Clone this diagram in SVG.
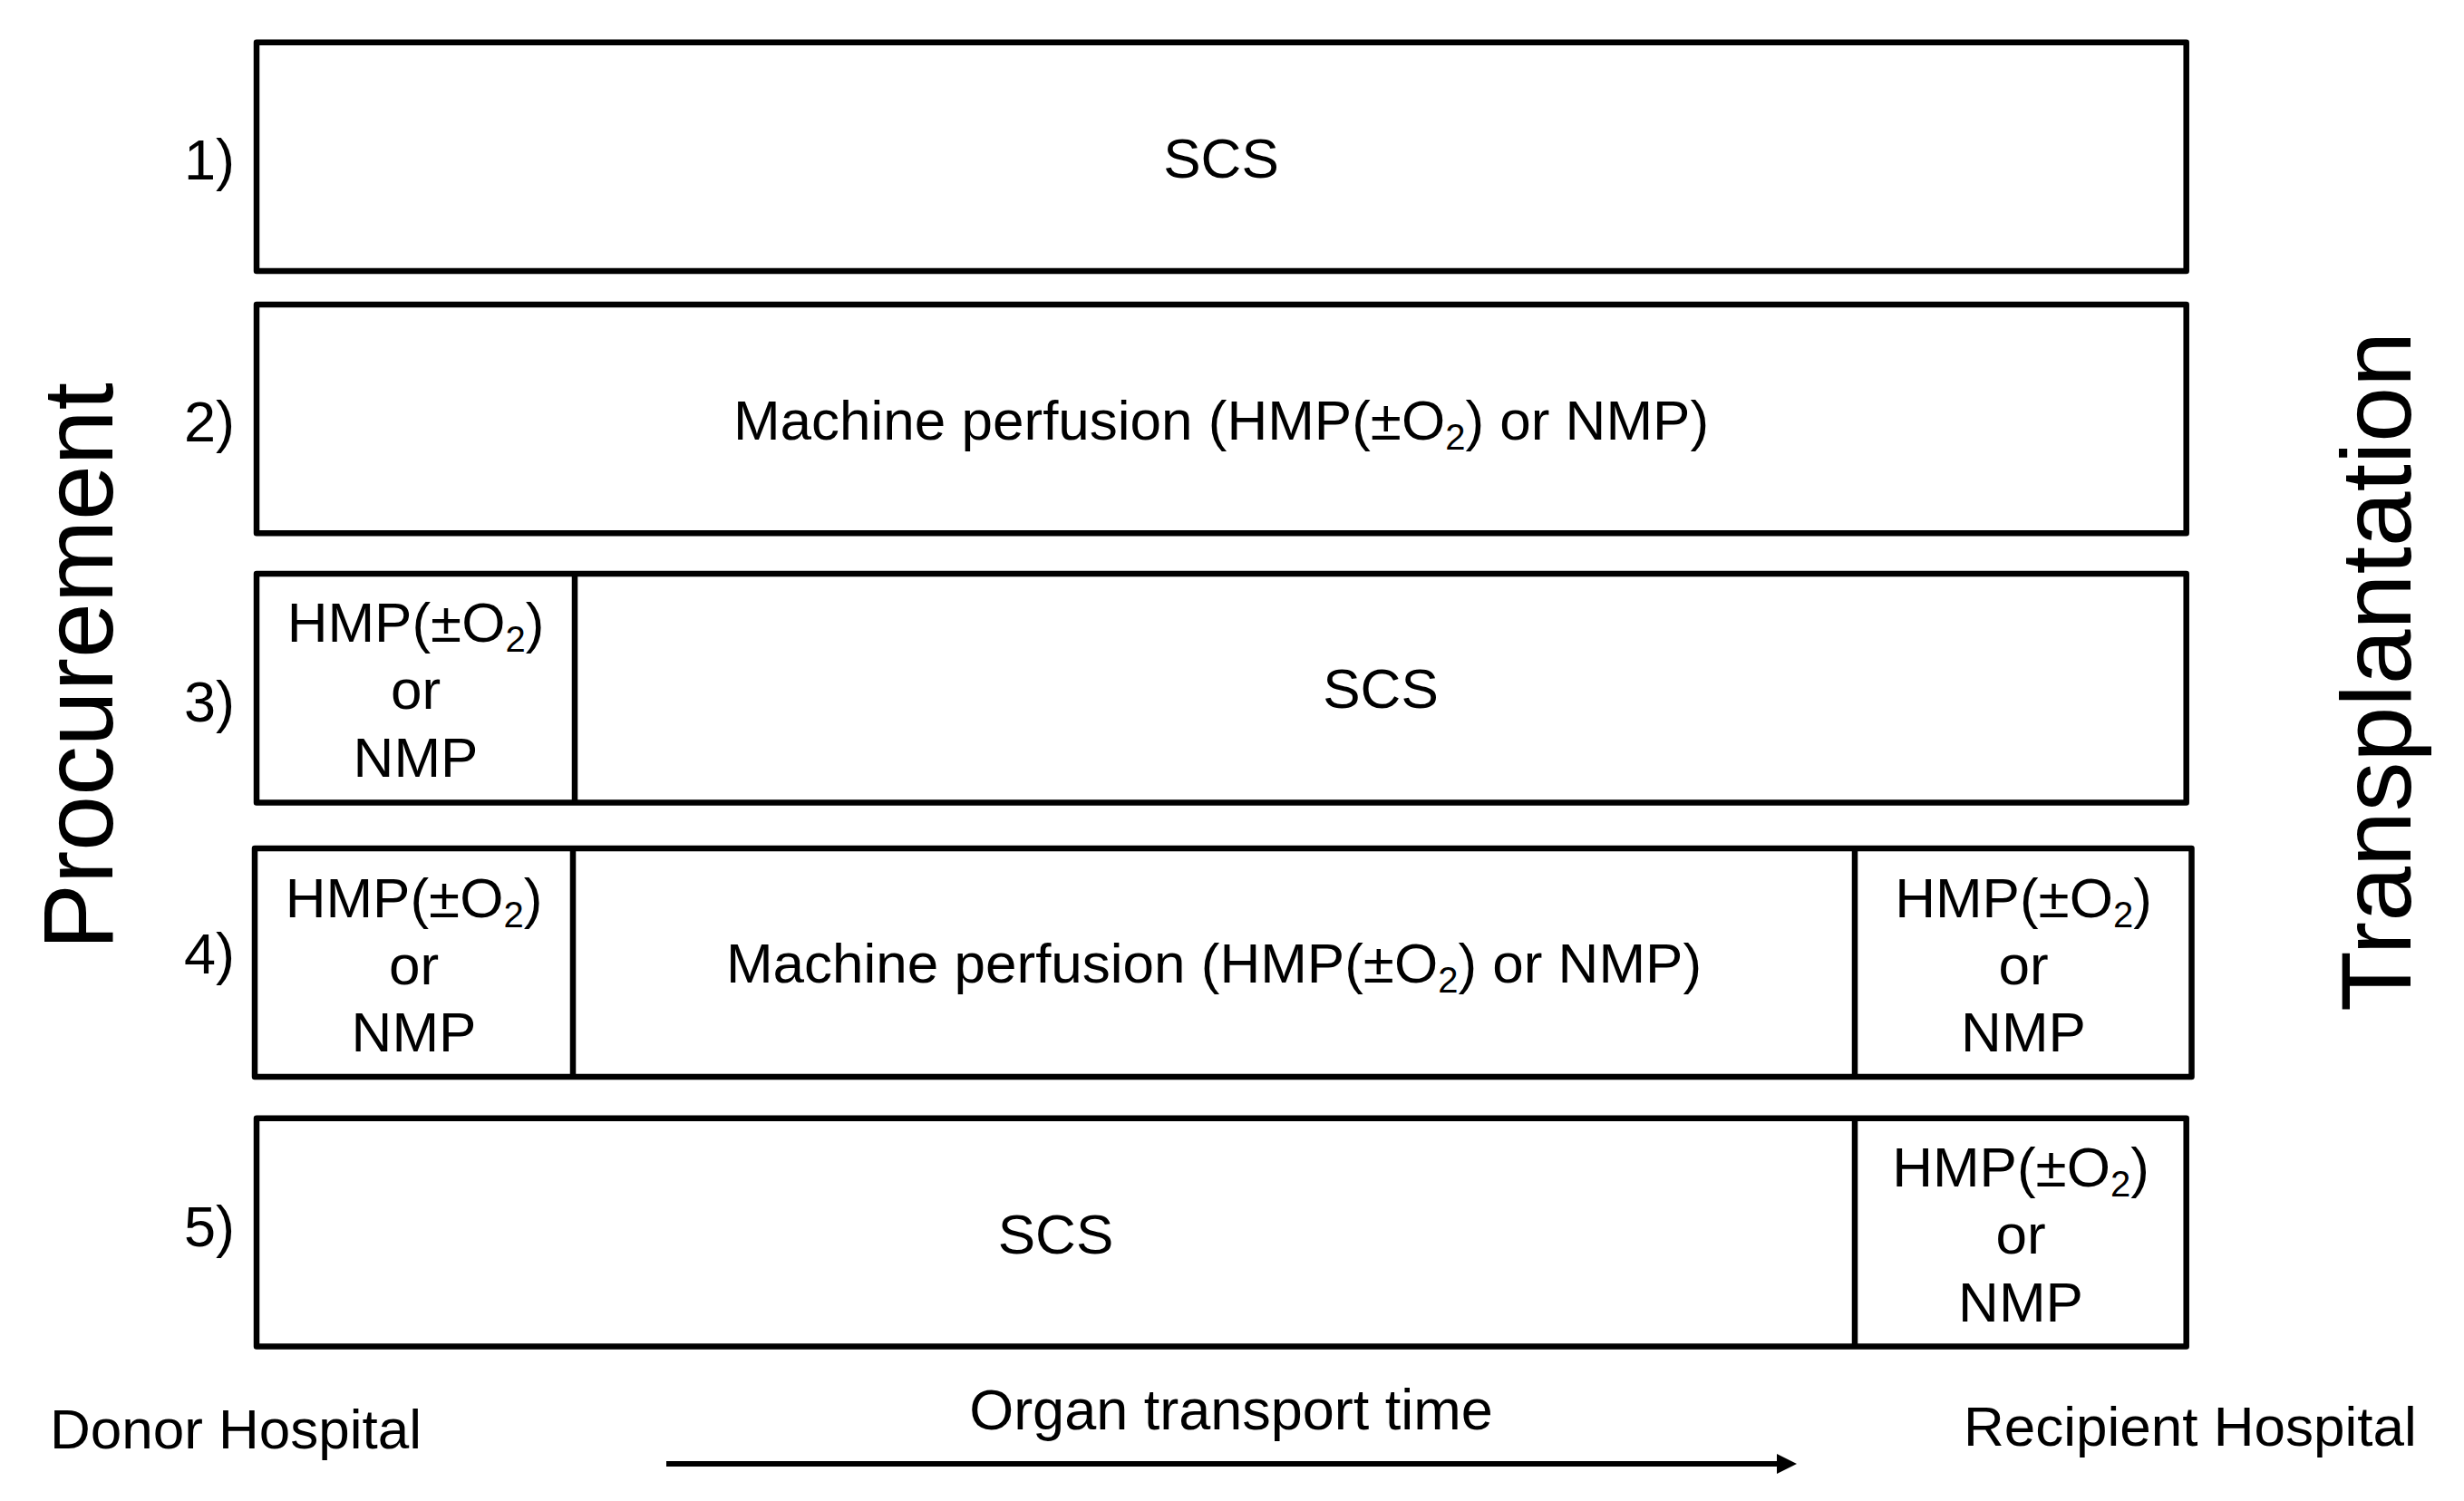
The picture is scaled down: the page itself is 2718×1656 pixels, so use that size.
<svg xmlns="http://www.w3.org/2000/svg" width="2718" height="1656" viewBox="0 0 2718 1656">
<style>
  .box { fill: #ffffff; stroke: #000000; stroke-width: 6.5; stroke-linejoin: round; }
  .div { stroke: #000000; stroke-width: 6.5; }
  text { font-family: "Liberation Sans", Arial, sans-serif; fill: #000000; }
  .t { font-size: 62px; text-anchor: middle; }
  .num { font-size: 63px; text-anchor: end; }
  .big { font-size: 110px; text-anchor: middle; }
  .sub { font-size: 40px; }
  .lab { font-size: 62px; }
</style>
<defs>
  <marker id="arrowhead" markerUnits="userSpaceOnUse" markerWidth="24" markerHeight="24" refX="0" refY="11" orient="auto">
    <path d="M0,0 L22,11 L0,22 Z" fill="#000000"/>
  </marker>
</defs>
<rect width="2718" height="1656" fill="#ffffff"/>

<g id="side-labels">
  <text class="big" transform="translate(124,735) rotate(-90)" textLength="626" lengthAdjust="spacingAndGlyphs">Procurement</text>
  <text class="big" transform="translate(2659,741) rotate(-90)" textLength="750" lengthAdjust="spacingAndGlyphs">Transplantation</text>
</g>

<g id="row-numbers">
  <text class="num" x="259" y="198">1)</text>
  <text class="num" x="259" y="487">2)</text>
  <text class="num" x="259" y="796">3)</text>
  <text class="num" x="259" y="1074">4)</text>
  <text class="num" x="259" y="1375">5)</text>
</g>

<g id="row1">
  <rect class="box" x="283" y="46.7" width="2128.7" height="252.2"/>
  <text class="t" x="1347" y="196">SCS</text>
</g>

<g id="row2">
  <rect class="box" x="283" y="336" width="2128.7" height="252.2"/>
  <text class="t" x="1347" y="485">Machine perfusion (HMP(±O<tspan class="sub" dy="11">2</tspan><tspan dy="-11">) or NMP)</tspan></text>
</g>

<g id="row3">
  <rect class="box" x="283" y="633" width="2128.7" height="252.5"/>
  <line class="div" x1="634" y1="633" x2="634" y2="885.5"/>
  <text class="t" x="458.5" y="708">HMP(±O<tspan class="sub" dy="11">2</tspan><tspan dy="-11">)</tspan></text>
  <text class="t" x="458.5" y="782">or</text>
  <text class="t" x="458.5" y="857">NMP</text>
  <text class="t" x="1523" y="781">SCS</text>
</g>

<g id="row4">
  <rect class="box" x="281" y="936" width="2136.5" height="252"/>
  <line class="div" x1="632" y1="936" x2="632" y2="1188"/>
  <line class="div" x1="2046" y1="936" x2="2046" y2="1188"/>
  <text class="t" x="456.5" y="1012">HMP(±O<tspan class="sub" dy="11">2</tspan><tspan dy="-11">)</tspan></text>
  <text class="t" x="456.5" y="1086">or</text>
  <text class="t" x="456.5" y="1160">NMP</text>
  <text class="t" x="1339" y="1084">Machine perfusion (HMP(±O<tspan class="sub" dy="11">2</tspan><tspan dy="-11">) or NMP)</tspan></text>
  <text class="t" x="2232" y="1012">HMP(±O<tspan class="sub" dy="11">2</tspan><tspan dy="-11">)</tspan></text>
  <text class="t" x="2232" y="1086">or</text>
  <text class="t" x="2232" y="1160">NMP</text>
</g>

<g id="row5">
  <rect class="box" x="283" y="1233.7" width="2128.7" height="251.8"/>
  <line class="div" x1="2046" y1="1233.7" x2="2046" y2="1485.5"/>
  <text class="t" x="1164.5" y="1383">SCS</text>
  <text class="t" x="2229" y="1309">HMP(±O<tspan class="sub" dy="11">2</tspan><tspan dy="-11">)</tspan></text>
  <text class="t" x="2229" y="1383">or</text>
  <text class="t" x="2229" y="1458">NMP</text>
</g>

<g id="bottom-labels">
  <text class="lab" x="55" y="1598">Donor Hospital</text>
  <text class="lab" x="2166" y="1595">Recipient Hospital</text>
  <text class="t" x="1358" y="1577" style="font-size:63px">Organ transport time</text>
</g>

<g id="connectors">
  <line x1="735" y1="1615" x2="1960" y2="1615" stroke="#000000" stroke-width="6" marker-end="url(#arrowhead)"/>
</g>
</svg>
